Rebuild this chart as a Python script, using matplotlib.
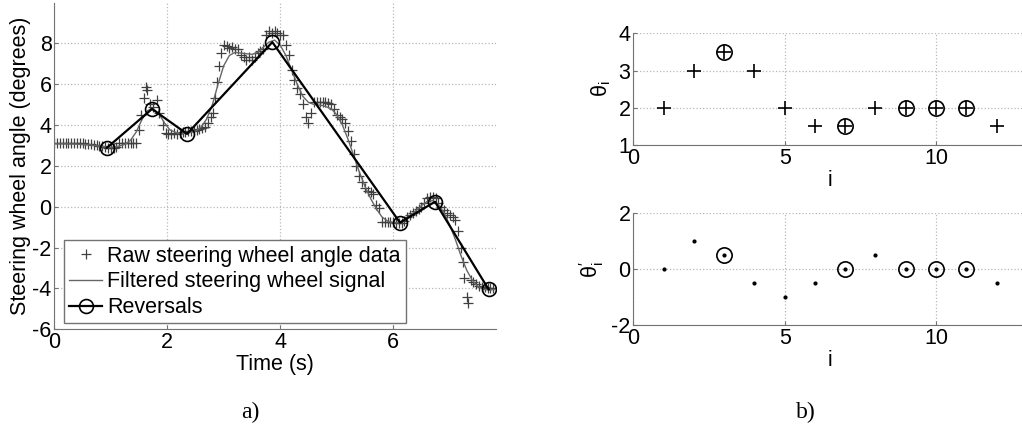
import numpy as np
import matplotlib
matplotlib.use('Agg')
import matplotlib.pyplot as plt

plt.rcParams['font.family'] = ['Liberation Sans', 'DejaVu Sans']
plt.rcParams['mathtext.fontset'] = 'custom'
plt.rcParams['mathtext.rm'] = 'Liberation Sans'
plt.rcParams['mathtext.it'] = 'Liberation Sans'
plt.rcParams['mathtext.sf'] = 'Liberation Sans'
plt.rcParams['axes.unicode_minus'] = False

# raw steering wheel angle samples (s, degrees)
raw_t = [0.00, 0.05, 0.10, 0.15, 0.20, 0.25, 0.30, 0.35, 0.40, 0.45,
         0.50, 0.55, 0.60, 0.65, 0.70, 0.75, 0.80, 0.85, 0.90, 0.95,
         1.00, 1.05, 1.10, 1.15, 1.20, 1.25, 1.30, 1.35, 1.40, 1.45,
         1.50, 1.53, 1.58, 1.62, 1.65, 1.70, 1.75, 1.81, 1.86, 1.93,
         1.97, 2.02, 2.07, 2.12, 2.17, 2.22, 2.27, 2.32, 2.37, 2.42,
         2.47, 2.52, 2.57, 2.62, 2.67, 2.72, 2.77, 2.81, 2.85, 2.88,
         2.91, 2.95, 3.00, 3.05, 3.10, 3.15, 3.20, 3.25, 3.30, 3.35,
         3.40, 3.45, 3.50, 3.55, 3.60, 3.65, 3.70, 3.75, 3.80, 3.85,
         3.90, 3.95, 4.00, 4.05, 4.10, 4.15, 4.20, 4.25, 4.30, 4.35,
         4.40, 4.45, 4.50, 4.55, 4.60, 4.65, 4.70, 4.75, 4.80, 4.85,
         4.90, 4.95, 5.00, 5.05, 5.10, 5.15, 5.20, 5.25, 5.30, 5.35,
         5.40, 5.45, 5.50, 5.55, 5.60, 5.65, 5.70, 5.75, 5.80, 5.85,
         5.90, 5.95, 6.00, 6.05, 6.10, 6.15, 6.20, 6.25, 6.30, 6.35,
         6.40, 6.45, 6.50, 6.55, 6.60, 6.65, 6.70, 6.75, 6.80, 6.85,
         6.90, 6.95, 7.00, 7.05, 7.10, 7.15, 7.20, 7.23, 7.26, 7.30,
         7.33, 7.37, 7.42, 7.47, 7.52, 7.57, 7.62, 7.67, 7.72, 7.77]
raw_angle = [3.10, 3.10, 3.10, 3.10, 3.10, 3.10, 3.10, 3.10, 3.10, 3.10,
             3.10, 3.05, 3.05, 3.05, 3.00, 3.00, 2.95, 2.95, 2.90, 2.85,
             2.85, 2.85, 2.90, 3.10, 3.10, 3.10, 3.10, 3.10, 3.10, 3.10,
             3.75, 4.50, 5.30, 5.85, 5.70, 5.00, 4.90, 5.20, 4.60, 4.00,
             3.60, 3.55, 3.55, 3.60, 3.55, 3.60, 3.65, 3.65, 3.70, 3.70,
             3.70, 3.75, 3.80, 3.85, 3.90, 4.10, 4.40, 4.60, 5.30, 6.10,
             6.90, 7.50, 7.90, 7.85, 7.75, 7.80, 7.70, 7.70, 7.40, 7.30,
             7.20, 7.30, 7.20, 7.30, 7.50, 7.60, 7.70, 8.40, 8.60, 8.50,
             8.60, 8.50, 8.40, 8.40, 7.90, 7.40, 6.70, 6.20, 5.80, 5.50,
             5.00, 4.40, 4.10, 4.60, 5.10, 5.10, 5.10, 5.10, 5.10, 5.05,
             5.00, 4.80, 4.50, 4.40, 4.30, 4.10, 3.70, 3.20, 2.60, 2.00,
             1.50, 1.20, 0.90, 0.75, 0.70, 0.60, 0.10, -0.05, -0.75, -0.75,
             -0.75, -0.75, -0.75, -0.80, -0.80, -0.80, -0.70, -0.50, -0.40, -0.30,
             -0.20, -0.10, 0.00, 0.20, 0.40, 0.45, 0.45, 0.40, 0.20, 0.00,
             -0.15, -0.30, -0.40, -0.50, -0.65, -1.20, -2.00, -2.70, -3.50, -4.40,
             -4.70, -3.60, -3.70, -3.80, -3.90, -3.95, -3.95, -4.00, -4.00, -4.00]

# low-pass filtered signal
filt_t = [0.0, 0.3, 0.6, 0.8, 0.95, 1.1, 1.25, 1.35, 1.45, 1.55,
          1.65, 1.75, 1.85, 1.95, 2.05, 2.2, 2.35, 2.5, 2.6, 2.7,
          2.8, 2.9, 3.0, 3.1, 3.2, 3.35, 3.5, 3.6, 3.7, 3.8,
          3.9, 4.0, 4.1, 4.2, 4.3, 4.4, 4.5, 4.6, 4.75, 4.9,
          5.0, 5.1, 5.2, 5.3, 5.4, 5.5, 5.6, 5.7, 5.8, 5.9,
          6.0, 6.1, 6.2, 6.3, 6.4, 6.5, 6.6, 6.7, 6.8, 6.9,
          7.0, 7.1, 7.2, 7.3, 7.4, 7.5, 7.6, 7.7, 7.8]
filt_angle = [3.08, 3.07, 3.03, 2.97, 2.90, 2.93, 3.05, 3.25, 3.65, 4.25,
              4.70, 4.80, 4.55, 4.10, 3.75, 3.58, 3.58, 3.70, 3.90, 4.30,
              5.00, 6.00, 6.90, 7.40, 7.55, 7.50, 7.45, 7.55, 7.80, 8.05,
              8.15, 7.90, 7.40, 6.70, 6.00, 5.40, 5.10, 5.00, 4.95, 4.80,
              4.50, 4.00, 3.30, 2.50, 1.70, 1.00, 0.40, -0.10, -0.50, -0.70,
              -0.78, -0.78, -0.65, -0.45, -0.20, 0.05, 0.25, 0.30, 0.10, -0.30,
              -0.90, -1.60, -2.40, -3.10, -3.60, -3.90, -4.05, -4.08, -4.05]

# detected reversal points
rev_t = [0.93, 1.73, 2.35, 3.86, 6.12, 6.74, 7.69]
rev_angle = [2.88, 4.78, 3.56, 8.05, -0.78, 0.24, -4.05]

# quantised values and their differences
idx = [1, 2, 3, 4, 5, 6, 7, 8, 9, 10, 11, 12]
theta = [2, 3, 3.5, 3, 2, 1.5, 1.5, 2, 2, 2, 2, 1.5]
dtheta = [0, 1, 0.5, -0.5, -1, -0.5, 0, 0.5, 0, 0, 0, -0.5]
picked = [3, 7, 9, 10, 11]

FS = 15.5
W, H = 1022, 430


def style(ax):
    for s in ['top', 'right']:
        ax.spines[s].set_visible(False)
    for s in ['left', 'bottom']:
        ax.spines[s].set_color('0.45')
    ax.grid(True, ls=':', color='0.72', lw=0.9)
    ax.tick_params(direction='in', length=3, color='0.45', labelsize=FS, pad=2)


fig = plt.figure(figsize=(W / 100, H / 100), dpi=100)

# a) steering wheel angle
ax = fig.add_axes([54.3 / W, (H - 329.3) / H, 441.7 / W, 326 / H])
style(ax)
ax.plot(raw_t, raw_angle, ls='none', marker='+', ms=7.5, mew=0.9, color='0.25',
        label='Raw steering wheel angle data')
ax.plot(filt_t, filt_angle, '-', lw=1.0, color='0.4', label='Filtered steering wheel signal')
ax.plot(rev_t, rev_angle, '-o', lw=1.6, ms=10, mfc='none', mec='k', mew=1.2, color='k',
        label='Reversals')
ax.set_xlim(0, 7.82)
ax.set_ylim(-6, 9.95)
ax.set_xticks([0, 2, 4, 6])
ax.set_yticks([-6, -4, -2, 0, 2, 4, 6, 8])
ax.set_xlabel('Time (s)', fontsize=FS, labelpad=1)
ax.set_ylabel('Steering wheel angle (degrees)', fontsize=FS, labelpad=1)
leg = ax.legend(loc='lower left', bbox_to_anchor=(0.022, 0.018), borderaxespad=0,
                fontsize=FS, handlelength=1.5, handletextpad=0.25, labelspacing=0.22,
                borderpad=0.25, fancybox=False, framealpha=1)
leg.get_frame().set_edgecolor('0.45')

# b) theta_i
ax1 = fig.add_axes([633.3 / W, (H - 145) / H, 393.5 / W, 111.7 / H])
style(ax1)
sel_theta = [theta[i - 1] for i in picked]
ax1.plot(idx, theta, ls='none', marker='+', ms=10, mew=1.2, color='k')
ax1.plot(picked, sel_theta, ls='none', marker='o', ms=11, mfc='none', mec='k', mew=1.2)
ax1.set_xlim(0, 13)
ax1.set_ylim(1, 4)
ax1.set_xticks([0, 5, 10])
ax1.set_yticks([1, 2, 3, 4])
ax1.set_xlabel('i', fontsize=FS, labelpad=1)
ax1.set_ylabel(r'$\mathrm{\theta_i}$', fontsize=FS, labelpad=4)

# b) theta'_i
ax2 = fig.add_axes([633.3 / W, (H - 325.3) / H, 393.5 / W, 112 / H])
style(ax2)
sel_dtheta = [dtheta[i - 1] for i in picked]
ax2.plot(idx, dtheta, ls='none', marker='.', ms=4, color='k')
ax2.plot(picked, sel_dtheta, ls='none', marker='o', ms=11, mfc='none', mec='k', mew=1.2)
ax2.set_xlim(0, 13)
ax2.set_ylim(-2, 2)
ax2.set_xticks([0, 5, 10])
ax2.set_yticks([-2, 0, 2])
ax2.set_xlabel('i', fontsize=FS, labelpad=1)
ax2.set_ylabel(r"$\mathrm{\theta_i^{\prime}}$", fontsize=FS, labelpad=4)

fig.text(250 / W, 1 - 412 / H, 'a)', fontsize=17, family='Liberation Serif',
         ha='center', va='center')
fig.text(806 / W, 1 - 412 / H, 'b)', fontsize=17, family='Liberation Serif',
         ha='center', va='center')

fig.savefig('out.png', dpi=100, facecolor='white')
